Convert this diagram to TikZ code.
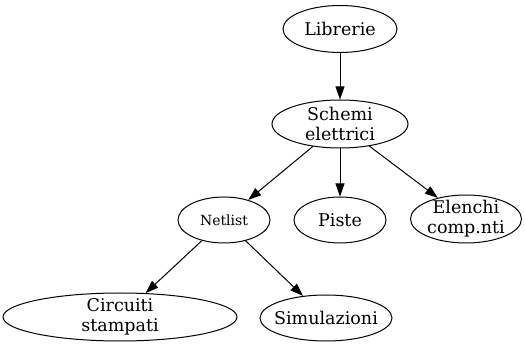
\documentclass[tikz,border=0pt]{standalone}
\usepackage{fontspec}
\setmainfont{DejaVu Serif}
\usetikzlibrary{shapes.geometric,arrows.meta}
\begin{document}
\begin{tikzpicture}[x=1pt,y=-1pt,
  nd/.style={ellipse,draw,line width=1pt,inner sep=0pt},
  tx/.style={inner sep=0pt,align=center,font=\fontsize{17.5}{20}\selectfont},
  ar/.style={line width=1pt,-{Triangle[length=13pt,width=9pt]}}]
\useasboundingbox (0,0) rectangle (525,347);
\node[nd,minimum width=114pt,minimum height=47pt] (lib) at (340,29) {};
\node[tx] (libt) at (lib) {Librerie};
\node[nd,minimum width=136pt,minimum height=48pt] (sch) at (340,124) {};
\node[tx] (scht) at (sch) {Schemi\\elettrici};
\node[nd,minimum width=92pt,minimum height=46pt] (net) at (224,220) {};
\node[tx,font=\fontsize{14}{16}\selectfont] (nett) at (net) {Netlist};
\node[nd,minimum width=92pt,minimum height=46pt] (pis) at (340,220) {};
\node[tx] (pist) at (pis) {Piste};
\node[nd,minimum width=111pt,minimum height=48pt] (ele) at (466,219) {};
\node[tx] (elet) at (ele) {Elenchi\\comp.nti};
\node[nd,minimum width=234pt,minimum height=48pt] (cir) at (120,317) {};
\node[tx] (cirt) at (cir) {Circuiti\\stampati};
\node[nd,minimum width=132pt,minimum height=46pt] (sim) at (326,318) {};
\node[tx] (simt) at (sim) {Simulazioni};
\draw[ar] (lib) -- (sch);
\draw[ar] (sch) -- (net);
\draw[ar] (sch) -- (pis);
\draw[ar] (sch) -- (ele);
\draw[ar] (net) -- (cir);
\draw[ar] (net) -- (sim);
\end{tikzpicture}
\end{document}
